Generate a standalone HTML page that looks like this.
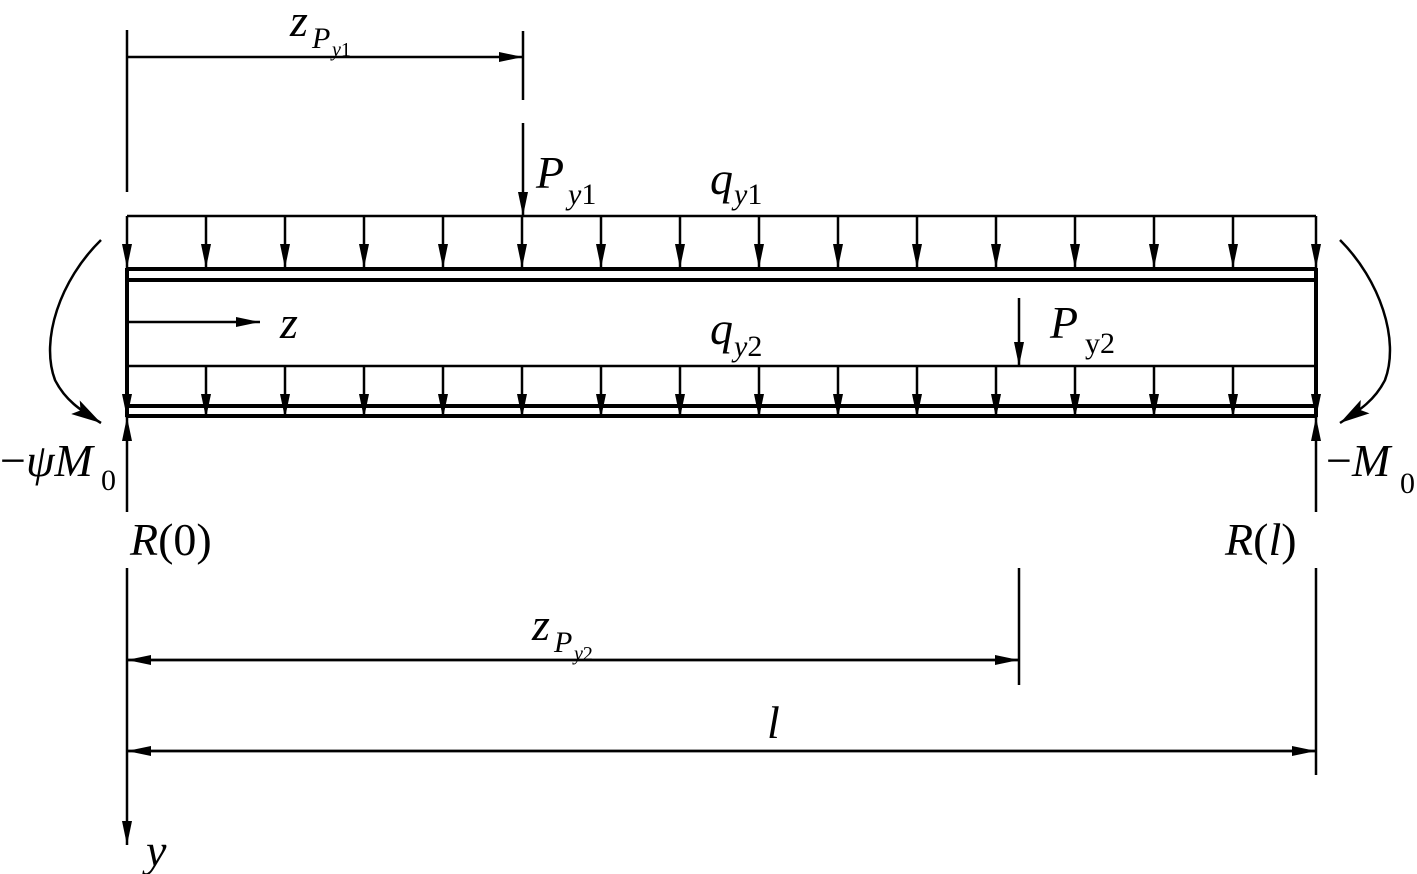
<!DOCTYPE html>
<html><head><meta charset="utf-8"><style>body{margin:0;background:#fff}svg{display:block}
text{font-family:"Liberation Serif","Times New Roman",serif;fill:#000}</style></head><body>
<svg width="1417" height="874" viewBox="0 0 1417 874" xmlns="http://www.w3.org/2000/svg">
<defs>
<marker id="a" viewBox="0 0 24 10" refX="24" refY="5" markerWidth="24" markerHeight="10" markerUnits="userSpaceOnUse" orient="auto"><path d="M0,0L24,5L0,10z" fill="#000"/></marker>
<marker id="b" viewBox="0 0 30 16" refX="30" refY="8" markerWidth="30" markerHeight="16" markerUnits="userSpaceOnUse" orient="auto"><path d="M0,0L30,8L0,16L6,8z" fill="#000"/></marker>
</defs>
<g stroke="#000" fill="none" stroke-width="2.5">
<line x1="127" y1="30" x2="127" y2="192"/>
<line x1="523" y1="31" x2="523" y2="100"/>
<line x1="127" y1="57" x2="523" y2="57" marker-end="url(#a)"/>
<line x1="523" y1="123" x2="523" y2="216" marker-end="url(#a)"/>
<line x1="127" y1="216" x2="1316" y2="216"/>
<line x1="127" y1="366" x2="1316" y2="366"/>
<g id="arr">
<line x1="127" y1="216" x2="127" y2="268" marker-end="url(#a)"/>
<line x1="206" y1="216" x2="206" y2="268" marker-end="url(#a)"/>
<line x1="285" y1="216" x2="285" y2="268" marker-end="url(#a)"/>
<line x1="364" y1="216" x2="364" y2="268" marker-end="url(#a)"/>
<line x1="443" y1="216" x2="443" y2="268" marker-end="url(#a)"/>
<line x1="522" y1="216" x2="522" y2="268" marker-end="url(#a)"/>
<line x1="601" y1="216" x2="601" y2="268" marker-end="url(#a)"/>
<line x1="680" y1="216" x2="680" y2="268" marker-end="url(#a)"/>
<line x1="759" y1="216" x2="759" y2="268" marker-end="url(#a)"/>
<line x1="838" y1="216" x2="838" y2="268" marker-end="url(#a)"/>
<line x1="917" y1="216" x2="917" y2="268" marker-end="url(#a)"/>
<line x1="996" y1="216" x2="996" y2="268" marker-end="url(#a)"/>
<line x1="1075" y1="216" x2="1075" y2="268" marker-end="url(#a)"/>
<line x1="1154" y1="216" x2="1154" y2="268" marker-end="url(#a)"/>
<line x1="1233" y1="216" x2="1233" y2="268" marker-end="url(#a)"/>
<line x1="1316" y1="216" x2="1316" y2="268" marker-end="url(#a)"/>
</g>
<use href="#arr" transform="translate(0,150)"/>
<g stroke-width="4">
<line x1="127" y1="269" x2="1316" y2="269"/>
<line x1="127" y1="280" x2="1316" y2="280"/>
<line x1="127" y1="406" x2="1316" y2="406"/>
<line x1="127" y1="416" x2="1316" y2="416"/>
<line x1="127" y1="268" x2="127" y2="417"/>
<line x1="1316" y1="268" x2="1316" y2="417"/>
</g>
<line x1="129" y1="322" x2="260" y2="322" marker-end="url(#a)"/>
<line x1="1019" y1="298" x2="1019" y2="366" marker-end="url(#a)"/>
<line x1="127" y1="512" x2="127" y2="417" marker-end="url(#a)"/>
<line x1="1316" y1="512" x2="1316" y2="417" marker-end="url(#a)"/>
<path d="M101,240 C60,280 40,340 55,380 C65,400 80,410 101,423" marker-end="url(#b)"/>
<path d="M1340,240 C1380,280 1400,340 1385,380 C1375,400 1360,410 1340,423" marker-end="url(#b)"/>
<line x1="127" y1="568" x2="127" y2="845" marker-end="url(#a)"/>
<line x1="1019" y1="568" x2="1019" y2="685"/>
<line x1="1316" y1="568" x2="1316" y2="775"/>
<line x1="1019" y1="660" x2="127" y2="660" marker-end="url(#a)"/>
<line x1="127" y1="660" x2="1019" y2="660" marker-end="url(#a)"/>
<line x1="1316" y1="751" x2="127" y2="751" marker-end="url(#a)"/>
<line x1="127" y1="751" x2="1316" y2="751" marker-end="url(#a)"/>
</g>
<g font-size="46" font-family="Liberation Serif, serif">
<text x="290" y="36" font-style="italic">z</text><text x="312" y="48" font-size="30" font-style="italic">P</text><text x="332" y="56" font-size="20"><tspan font-style="italic">y</tspan>1</text>
<text x="536" y="188" font-style="italic">P</text><text x="568" y="204" font-size="30"><tspan font-style="italic">y</tspan>1</text>
<text x="710" y="194" font-style="italic">q</text><text x="734" y="204" font-size="30"><tspan font-style="italic">y</tspan>1</text>
<text x="280" y="338" font-style="italic">z</text>
<text x="710" y="344" font-style="italic">q</text><text x="734" y="356" font-size="30"><tspan font-style="italic">y</tspan>2</text>
<text x="1050" y="338" font-style="italic">P</text><text x="1085" y="353" font-size="30">y2</text>
<text x="0" y="476">−<tspan font-style="italic">ψM</tspan></text><text x="101" y="490" font-size="30">0</text>
<text x="1326" y="476">−<tspan font-style="italic">M</tspan></text><text x="1400" y="493" font-size="30">0</text>
<text x="130" y="555"><tspan font-style="italic">R</tspan>(0)</text>
<text x="1225" y="555"><tspan font-style="italic">R</tspan>(<tspan font-style="italic">l</tspan>)</text>
<text x="532" y="640" font-style="italic">z</text><text x="554" y="652" font-size="30" font-style="italic">P</text><text x="574" y="660" font-size="20"><tspan font-style="italic">y</tspan>2</text>
<text x="767" y="738" font-style="italic">l</text>
<text x="146" y="866" font-style="italic">y</text>
</g>
</svg>
</body></html>
